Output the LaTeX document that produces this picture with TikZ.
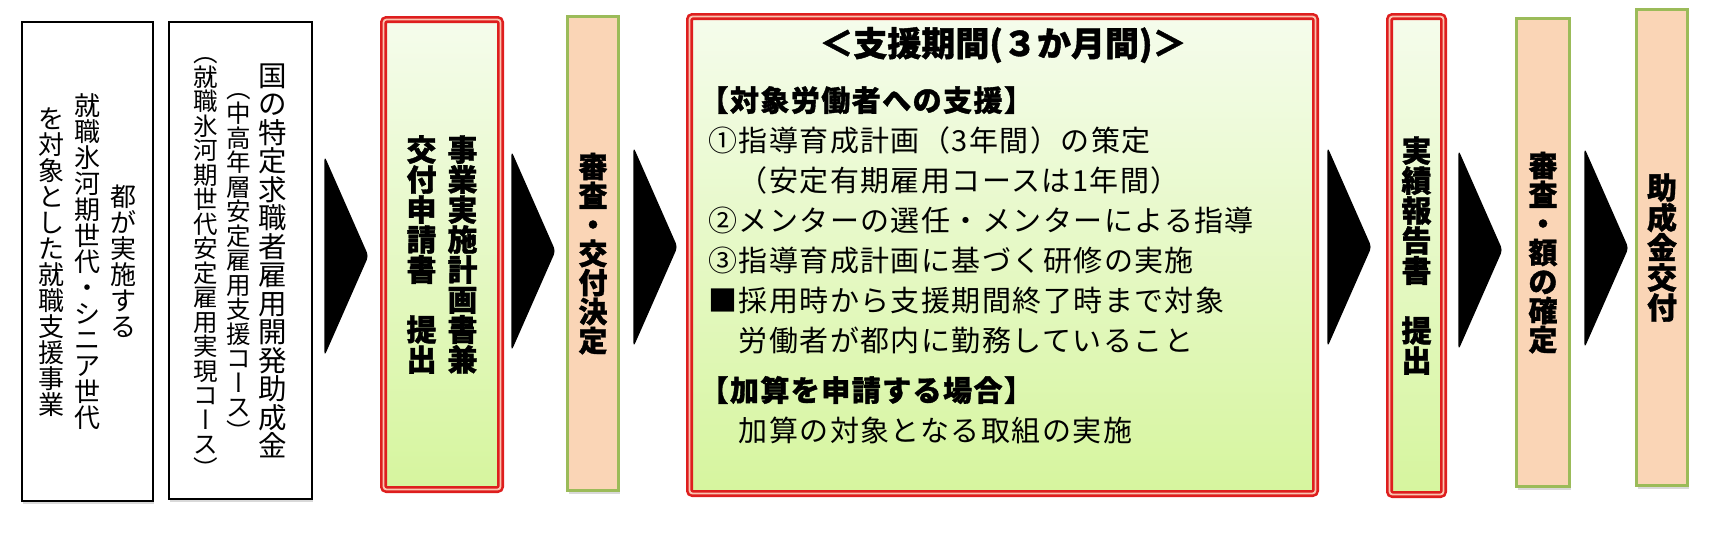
\documentclass[tikz,border=0pt]{standalone}
\usepackage{fontspec}
\setmainfont{Noto Sans CJK JP}
\usepackage{graphicx}
\usetikzlibrary{shapes.geometric,shadows,positioning}
\definecolor{boxred}{RGB}{222,30,30}
\definecolor{gapred}{RGB}{250,196,176}
\definecolor{peach}{RGB}{250,213,182}
\definecolor{olive}{RGB}{155,187,89}
\definecolor{limetop}{RGB}{245,252,236}
\definecolor{limebot}{RGB}{214,245,158}
% vertical (tategaki) columns
\makeatletter
\newcommand\tate@strut{\vrule height .88em depth .12em width 0pt}
\newcommand\tate[2]{\vcenter{\fontsize{#1}{#1}\selectfont\offinterlineskip
  \@tfor\tate@c:=#2\do{\hbox to 1em{\hss\vbox to #1pt{\vss\hbox{\tate@strut\tate@c}\vss}\hss}}}}
\newcommand\tbar{\rotatebox[origin=c]{-90}{\tate@strut ー}}
\newcommand\tlp{\rotatebox[origin=c]{-90}{\tate@strut （}}
\newcommand\trp{\rotatebox[origin=c]{-90}{\tate@strut ）}}
\makeatother
\newcommand\heavy{\bfseries\addfontfeature{FakeBold=1.2}}
\tikzstyle{shade} = [drop shadow={opacity=.25, fill=black!60, shadow xshift=1pt, shadow yshift=-3pt}]
\tikzstyle{plainbox} = [rectangle, draw=black, line width=1.6pt, fill=white, shade]
\tikzstyle{redbox} = [rectangle, draw=boxred, line width=2.6pt, double=gapred,
    double distance=1.8pt, rounded corners=3pt, top color=limetop, bottom color=limebot, shade]
\tikzstyle{peachbox} = [rectangle, draw=olive, line width=2.6pt, fill=peach, shade, font=\heavy]
\tikzstyle{chevron} = [isosceles triangle, isosceles triangle stretches, fill=black,
    minimum width=200pt, minimum height=44pt, inner sep=0pt, anchor=apex, rounded corners=4pt]

\begin{document}
\begin{tikzpicture}[x=1pt,y=1pt]
    \useasboundingbox (0,0) rectangle (1717,-550);
    % Place boxes
    \node[plainbox, minimum width=131pt, minimum height=479pt] (b1) at (87.5,-261.5)
        {$\tate{26}{を対象とした就職支援事業}\hskip10pt\tate{26}{就職氷河期世代・シニア世代}\hskip10pt\tate{26}{都が実施する}$};
    \node[plainbox, minimum width=143pt, minimum height=477pt] (b2) at (240.5,-260.5)
        {$\tate{24.5}{\tlp 就職氷河期世代安定雇用実現コ\tbar ス\trp}\hskip8pt\tate{24.5}{\tlp 中高年層安定雇用支援コ\tbar ス\trp}\hskip8pt\tate{28.5}{国の特定求職者雇用開発助成金}$};
    \node[redbox, minimum width=117pt, minimum height=470pt, font=\heavy] (b3) at (442,-254.5)
        {$\tate{30}{交付申請書　提出}\hskip11pt\tate{30}{事業実施計画書兼}$};
    \node[peachbox, minimum width=51pt, minimum height=474pt] (b4) at (593,-253.5)
        {$\tate{29}{審査・交付決定}$};
    \node[redbox, minimum width=626pt, minimum height=477pt] (b5) at (1002.5,-255) {};
    \node[redbox, minimum width=54pt, minimum height=478pt, font=\heavy] (b6) at (1416.5,-255.5)
        {$\tate{30}{実績報告書　提出}$};
    \node[peachbox, minimum width=53pt, minimum height=468pt] (b7) at (1543,-252.5)
        {$\tate{29}{審査・額の確定}$};
    \node[peachbox, minimum width=51pt, minimum height=476pt] (b8) at (1662,-247.5)
        {$\tate{30}{助成金交付}$};
    % Support period text
    \node[font=\heavy\fontsize{34}{34}\selectfont] (title) at (1003,-45) {＜支援期間(３か月間)＞};
    \node[anchor=north west, align=left, inner sep=0pt,
        font=\fontsize{29}{40}\selectfont\addfontfeature{LetterSpace=5}] (body) at (708,-86)
        {\kern-.3em{\heavy 【対象労働者への支援】}\\
         ①指導育成計画（3年間）の策定\\
         　（安定有期雇用コースは1年間）\\
         ②メンターの選任・メンターによる指導\\
         ③指導育成計画に基づく研修の実施\\
         ■採用時から支援期間終了時まで対象\\
         　労働者が都内に勤務していること\\[10pt]
         \kern-.3em{\heavy 【加算を申請する場合】}\\
         　加算の対象となる取組の実施};
    % Draw arrows
    \node[chevron] (a1) at (369,-256) {};
    \node[chevron] (a2) at (556,-251) {};
    \node[chevron] (a3) at (678,-247) {};
    \node[chevron] (a4) at (1372,-247) {};
    \node[chevron] (a5) at (1503,-250) {};
    \node[chevron] (a6) at (1629,-248) {};
\end{tikzpicture}
\end{document}
